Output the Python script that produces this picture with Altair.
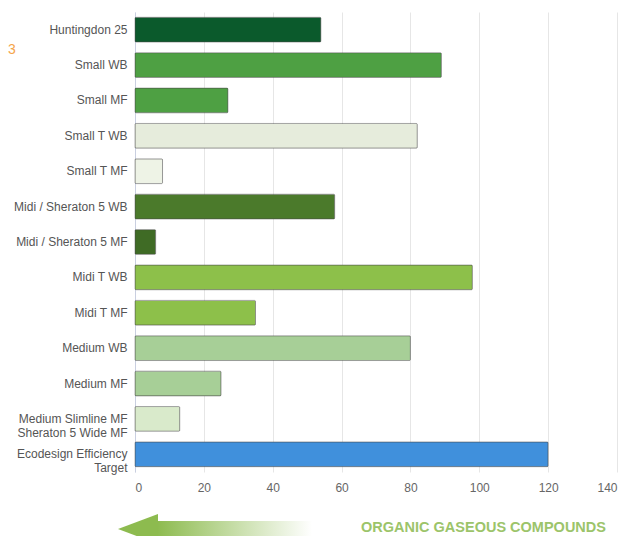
import altair as alt
import pandas as pd

categories = [
    "Huntingdon 25", "Small WB", "Small MF", "Small T WB", "Small T MF",
    "Midi / Sheraton 5 WB", "Midi / Sheraton 5 MF", "Midi T WB", "Midi T MF",
    "Medium WB", "Medium MF", "Medium Slimline MF|Sheraton 5 Wide MF",
    "Ecodesign Efficiency|Target",
]
values = [54, 89, 27, 82, 8, 58, 6, 98, 35, 80, 25, 13, 120]
colors = [
    "#0b5a2c", "#4ea043", "#4ea043", "#e6ecdc", "#eef3e6",
    "#4b7a2b", "#3f6b25", "#8dc04a", "#8dc04a",
    "#a7cf97", "#a7cf97", "#d9eacb", "#4090dc",
]
x_ticks = [0, 20, 40, 60, 80, 100, 120, 140]

df = pd.DataFrame({"cat": categories, "val": values})
FONT = "Liberation Sans"

bars = alt.Chart(df).mark_bar(
    stroke="#4a4a4a", strokeWidth=0.8, strokeOpacity=0.55, cornerRadius=1
).encode(
    x=alt.X("val:Q", scale=alt.Scale(domain=[0, 140], nice=False),
            axis=alt.Axis(values=x_ticks, title=None, ticks=False, domain=False,
                          grid=True, gridColor="#e6e6e6", labelColor="#666666",
                          labelFont=FONT, labelFontSize=12, labelPadding=10)),
    y=alt.Y("cat:N", sort=None,
            scale=alt.Scale(paddingInner=0.3, paddingOuter=0.15),
            axis=alt.Axis(title=None, ticks=False, domain=True, domainColor="#c9cfe0",
                          labelColor="#555555", labelFont=FONT, labelFontSize=12,
                          labelPadding=8, labelLimit=200,
                          labelExpr="split(datum.label, '|')")),
    color=alt.Color("cat:N", scale=alt.Scale(domain=categories, range=colors), legend=None),
)

one = pd.DataFrame({"a": [0]})

frag = alt.Chart(one).mark_text(
    text="3", color="#f5a54a", font=FONT, fontSize=14, align="left", baseline="middle"
).encode(x=alt.value(-127), y=alt.value(38))

title = alt.Chart(one).mark_text(
    text="ORGANIC GASEOUS COMPOUNDS", color="#9cc46a", font=FONT, fontSize=14.5,
    fontWeight="bold", align="right", baseline="middle"
).encode(x=alt.value(471), y=alt.value(516))

grad = alt.Gradient(
    gradient="linear",
    stops=[alt.GradientStop(color="#8dbb4f", offset=0),
           alt.GradientStop(color="#ffffff", offset=1)],
    x1=0, x2=1, y1=0, y2=0,
)
shaft = alt.Chart(one).mark_rect(fill=grad).encode(
    x=alt.value(22), x2=alt.value(177), y=alt.value(509), y2=alt.value(528)
)
head = alt.Chart(one).mark_point(
    shape="M -1 0 L 1 -0.75 L 1 0.75 Z", filled=True, fill="#8dbb4f", opacity=1, size=1600
).encode(x=alt.value(3), y=alt.value(517))

chart = alt.layer(bars, shaft, head, frag, title).properties(
    width=482, height=460,
    autosize=alt.AutoSizeParams(type="none"),
    padding={"left": 127, "top": 4, "right": 10, "bottom": 64},
).configure_view(strokeWidth=0)

chart.save("out.html", embed_options={"renderer": "svg", "actions": False})
